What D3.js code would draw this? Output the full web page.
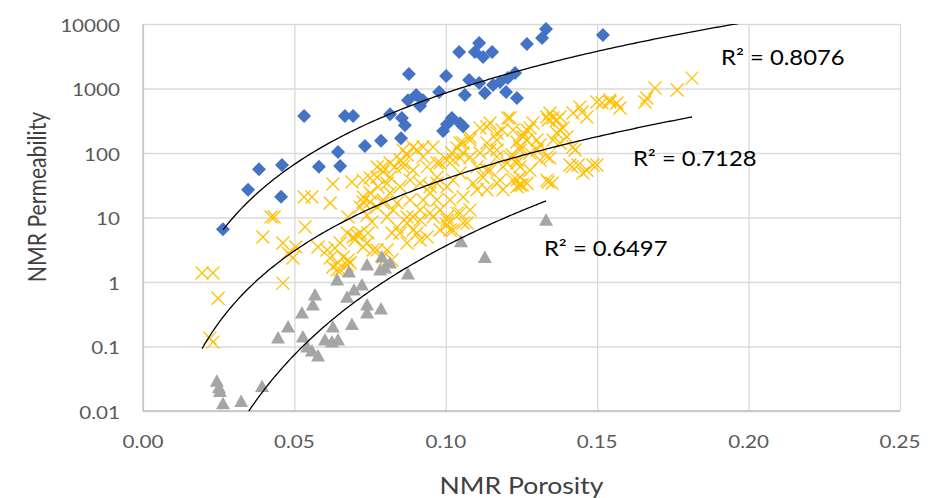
<!DOCTYPE html>
<html>
<head>
<meta charset="utf-8">
<script src="https://cdn.jsdelivr.net/npm/d3@7"></script>
<style>
  body { margin: 0; background: #fff; }
  text { font-family: Lato, "Open Sans", sans-serif; }
</style>
</head>
<body>
<svg id="chart" width="947" height="498"></svg>
<script>
// ---- data (porosity, permeability) ----
const xTicks = [0, 0.05, 0.10, 0.15, 0.20, 0.25];
const yTicks = [0.01, 0.1, 1, 10, 100, 1000, 10000];
const yTickLabels = ['0.01', '0.1', '1', '10', '100', '1000', '10000'];

const blueSeries = [
  [0.0264,6.6],[0.0347,27],[0.0383,56],[0.0456,21],[0.0459,65],[0.0532,375],[0.0581,61],[0.0644,104],
  [0.0651,63],[0.0667,375],[0.0694,375],[0.0733,128],[0.0786,155],[0.0816,400],[0.0852,170],[0.0855,350],
  [0.0865,270],[0.0875,660],[0.0878,1680],[0.0902,790],[0.0915,535],[0.0925,660],[0.0978,880],[0.0991,220],
  [0.1001,1560],[0.1004,280],[0.1020,350],[0.1044,3680],[0.1047,290],[0.1057,260],[0.1063,790],[0.1077,1360],
  [0.1096,3680],[0.1110,5070],[0.1110,1220],[0.1123,3080],[0.1129,850],[0.1153,3680],[0.1156,1130],[0.1179,1260],
  [0.1199,880],[0.1205,1460],[0.1229,1740],[0.1235,710],[0.1268,4890],[0.1318,6070],[0.1331,8360],[0.1519,6750]
];

const yellowSeries = [
  [0.0195,1.38],[0.0231,1.38],[0.0248,0.56],[0.0221,0.135],[0.0231,0.117],[0.0396,4.98],[0.0423,10.2],[0.0433,10.2],
  [0.0462,4.02],[0.0479,2.81],[0.0495,2.36],[0.0505,3.49],[0.0462,0.96],[0.0535,7.11],[0.0532,20.8],[0.0558,20.8],
  [0.0618,16.8],[0.0627,33],[0.0690,35.5],[0.0578,3.49],[0.0608,3.13],[0.0634,3.36],[0.0618,2.36],[0.0644,1.97],
  [0.0641,1.54],[0.0677,2.19],[0.0694,4.98],[0.0717,5.74],[0.0743,5.74],[0.0727,3.49],[0.0773,3.13],[0.0806,3.13],
  [0.0793,2.44],[0.0822,5.74],[0.0651,4.02],[0.0674,5.74],[0.0661,2.44],[0.0684,1.97],[0.0740,4.02],[0.0760,3.13],
  [0.0799,1.71],[0.0822,2.19],[0.0849,5.74],[0.0872,10.2],[0.0915,9.13],[0.0958,10.2],[0.1004,9.13],[0.1037,11.7],
  [0.0892,6.39],[0.0938,4.98],[0.0981,6.39],[0.1014,6.39],[0.1057,8.21],[0.0773,60.6],[0.0750,41],[0.0773,42],
  [0.0750,24],[0.0727,17.4],[0.0717,14.5],[0.0773,14.5],[0.0793,16.8],[0.0740,10.9],[0.0756,8.5],[0.0677,10.2],
  [0.0727,38],[0.0793,60.6],[0.0776,29.7],[0.0806,34],[0.0727,20.8],[0.0750,17.4],[0.0700,4.47],[0.0707,5.35],
  [0.0627,1.71],[0.0651,1.54],[0.0674,1.83],[0.1205,349],[0.1186,227],[0.1169,204],[0.1255,204],[0.1235,148],
  [0.1268,159],[0.1113,244],[0.1080,177],[0.1057,143],[0.1037,120],[0.1020,100],[0.0958,124],[0.0925,124],
  [0.0905,111],[0.0872,93],[0.0849,78],[0.0816,70],[0.0793,51],[0.0816,42],[0.0859,61],[0.0892,54],
  [0.0938,61],[0.0971,70],[0.1004,78],[0.1047,84],[0.1080,86],[0.1113,100],[0.1146,111],[0.1169,87],
  [0.1202,70],[0.1245,61],[0.1222,38],[0.1245,32],[0.1146,54],[0.1123,42],[0.1090,34],[0.1047,49],
  [0.1024,38],[0.1004,30],[0.0971,42],[0.0948,30],[0.0915,34],[0.0882,38],[0.0849,30],[0.0816,24],
  [0.0793,18.7],[0.0839,16.8],[0.0882,18.7],[0.0925,18.7],[0.0971,18.7],[0.1014,18.7],[0.1057,20.8],[0.0915,13.1],
  [0.0948,11.7],[0.0892,10.2],[0.0872,8.2],[0.0826,13.1],[0.0806,10.2],[0.0839,7.1],[0.0981,13.1],[0.1004,10.2],
  [0.1047,11.7],[0.1080,13.1],[0.1004,7.64],[0.1024,6.39],[0.1070,8.2],[0.0905,5.74],[0.0915,4.47],[0.0872,4.02],
  [0.1179,38],[0.1136,27],[0.1103,27],[0.0859,111],[0.0892,124],[0.0925,87],[0.0832,61],[0.0859,70],
  [0.1136,253],[0.1222,227],[0.1268,227],[0.1212,349],[0.1288,292],[0.1334,361],[0.1354,349],[0.1377,227],
  [0.1420,417],[0.1450,432],[0.1466,361],[0.1499,617],[0.1542,662],[0.1565,595],[0.1169,159],[0.1400,177],
  [0.1443,516],[0.1813,1450],[0.1764,947],[0.1691,1020],[0.1664,711],[0.1658,617],[0.1575,498],[0.1516,595],
  [0.1377,361],[0.1387,244],[0.1367,204],[0.1301,159],[0.1146,292],[0.1420,124],[0.1344,84],[0.1245,124],
  [0.1301,111],[0.1334,87],[0.1417,61],[0.1437,65],[0.1466,54],[0.1486,65],[0.1338,35.5],[0.1351,34],
  [0.1278,54],[0.1235,70],[0.1212,87],[0.1189,61],[0.1245,42],[0.1268,34],[0.1235,30],[0.1169,34],
  [0.1189,27],[0.1136,54],[0.1103,61],[0.1057,100],[0.1024,78],[0.0981,70],[0.1169,111],[0.1136,143],
  [0.1080,159],[0.1047,143],[0.0971,34],[0.0948,24],[0.1542,617],[0.1344,417],[0.1367,325],[0.1338,325],
  [0.1278,244],[0.1255,177],[0.1311,133],[0.1354,159],[0.1377,143],[0.1427,111],[0.1245,111],[0.1278,100],
  [0.1235,78],[0.1219,93],[0.1311,78],[0.1410,65],[0.1453,49],[0.1499,65],[0.1334,38],[0.1235,38],[0.1252,32]
];

const graySeries = [
  [0.0244,0.029],[0.0251,0.023],[0.0254,0.020],[0.0264,0.013],[0.0324,0.014],[0.0393,0.024],[0.0446,0.135],
  [0.0479,0.20],[0.0525,0.33],[0.0528,0.14],[0.0542,0.098],[0.0558,0.085],[0.0561,0.44],[0.0568,0.63],
  [0.0578,0.071],[0.0601,0.126],[0.0624,0.117],[0.0627,0.20],[0.0644,0.126],[0.0641,1.07],[0.0680,1.43],
  [0.0690,0.22],[0.0697,0.75],[0.0674,0.58],[0.0723,0.90],[0.0740,0.44],[0.0740,0.33],[0.0786,0.38],
  [0.0740,1.83],[0.0783,1.53],[0.0789,2.44],[0.0816,1.97],[0.0799,1.65],[0.0875,1.33],[0.1050,4.2],
  [0.1129,2.4],[0.1331,9.1]
];

// power trendlines y = a * x^b, drawn over [xFrom, xTo]
const trendA = [3.98e6, 2.04e5, 1.48e6];
const trendB = [3.67, 3.71, 5.61];
const trendFrom = [0.0264, 0.0195, 0.0244];
const trendTo = [0.2, 0.1813, 0.1331];
const r2Labels = ['R² = 0.8076', 'R² = 0.7128', 'R² = 0.6497'];
const r2At = [[0.1909, 3080], [0.1618, 84], [0.1324, 3.37]];

// ---- layout ----
const plot = { left: 143, right: 900, top: 24, bottom: 411 };
const sx = 1.18;                       // reference text is stretched sideways
const svg = d3.select('#chart');
const x = d3.scaleLinear().domain([0, 0.25]).range([plot.left, plot.right]);
const y = d3.scaleLog().domain([0.01, 10000]).range([plot.bottom, plot.top]);

// grid
svg.append('g').attr('transform', `translate(0,${plot.bottom})`)
  .call(d3.axisBottom(x).tickValues(xTicks).tickSize(-(plot.bottom - plot.top)).tickFormat(''))
  .call((g) => g.select('.domain').remove())
  .call((g) => g.selectAll('line').attr('stroke', '#d9d9d9').attr('stroke-width', 1.3));
svg.append('g').attr('transform', `translate(${plot.left},0)`)
  .call(d3.axisLeft(y).tickValues(yTicks).tickSize(-(plot.right - plot.left)).tickFormat(''))
  .call((g) => g.select('.domain').remove())
  .call((g) => g.selectAll('line').attr('stroke', '#d9d9d9').attr('stroke-width', 1.3));

// axis lines
svg.append('line').attr('x1', plot.left).attr('x2', plot.left).attr('y1', plot.top).attr('y2', plot.bottom)
  .attr('stroke', '#bfbfbf').attr('stroke-width', 1.3);
svg.append('line').attr('x1', plot.left).attr('x2', plot.right).attr('y1', plot.bottom).attr('y2', plot.bottom)
  .attr('stroke', '#bfbfbf').attr('stroke-width', 1.3);

// tick labels
svg.append('g').selectAll('text').data(xTicks).join('text')
  .attr('transform', (d) => `translate(${x(d)},${plot.bottom + 30}) scale(${sx},1)`)
  .attr('text-anchor', 'middle').attr('dominant-baseline', 'central')
  .attr('font-size', 17.5).attr('fill', '#595959')
  .text((d) => d3.format('.2f')(d));
svg.append('g').selectAll('text').data(yTicks).join('text')
  .attr('transform', (d) => `translate(${plot.left - 23},${y(d) + 1}) scale(${sx},1)`)
  .attr('text-anchor', 'end').attr('dominant-baseline', 'central')
  .attr('font-size', 17.5).attr('fill', '#595959')
  .text((d, i) => yTickLabels[i]);

// axis titles
svg.append('text')
  .attr('transform', `translate(${(plot.left + plot.right) / 2},485) scale(${sx},1)`)
  .attr('text-anchor', 'middle').attr('dominant-baseline', 'central')
  .attr('font-size', 22.5).attr('fill', '#404040').text('NMR Porosity');
svg.append('text')
  .attr('transform', `translate(36,197) scale(${sx},1) rotate(-90)`)
  .attr('text-anchor', 'middle').attr('dominant-baseline', 'central')
  .attr('font-size', 21.2).attr('fill', '#404040').text('NMR Permeability');

// markers
const diamond = 'M0,-7L7,0L0,7L-7,0Z';
const triangle = 'M0,-7L7,5.5L-7,5.5Z';
const cross = 'M-6.5,-6.5L6.5,6.5M-6.5,6.5L6.5,-6.5';
const at = (d) => `translate(${x(d[0])},${y(d[1])})`;

svg.append('g').selectAll('path').data(yellowSeries).join('path')
  .attr('d', cross).attr('transform', at)
  .attr('fill', 'none').attr('stroke', '#FFC000').attr('stroke-width', 1.3);
svg.append('g').selectAll('path').data(blueSeries).join('path')
  .attr('d', diamond).attr('transform', at).attr('fill', '#4472C4');
svg.append('g').selectAll('path').data(graySeries).join('path')
  .attr('d', triangle).attr('transform', at).attr('fill', '#A5A5A5');

// trendlines, clipped to the plot area
svg.append('clipPath').attr('id', 'plotClip').append('rect')
  .attr('x', plot.left).attr('y', plot.top)
  .attr('width', plot.right - plot.left).attr('height', plot.bottom - plot.top);
const line = d3.line().x((d) => x(d[0])).y((d) => y(d[1]));
const trends = trendA.map((a, i) => {
  const n = 200, x0 = trendFrom[i], x1 = trendTo[i];
  return d3.range(n + 1).map((k) => {
    const xv = x0 + (x1 - x0) * k / n;
    return [xv, a * Math.pow(xv, trendB[i])];
  });
});
svg.append('g').attr('clip-path', 'url(#plotClip)').selectAll('path').data(trends).join('path')
  .attr('d', line).attr('fill', 'none').attr('stroke', '#000').attr('stroke-width', 1.3);

// R² labels
svg.append('g').selectAll('text').data(r2Labels).join('text')
  .attr('transform', (d, i) => `translate(${x(r2At[i][0])},${y(r2At[i][1])}) scale(${sx},1)`)
  .attr('dominant-baseline', 'central').attr('font-size', 20.2).attr('fill', '#000')
  .text((d) => d);
</script>
</body>
</html>
